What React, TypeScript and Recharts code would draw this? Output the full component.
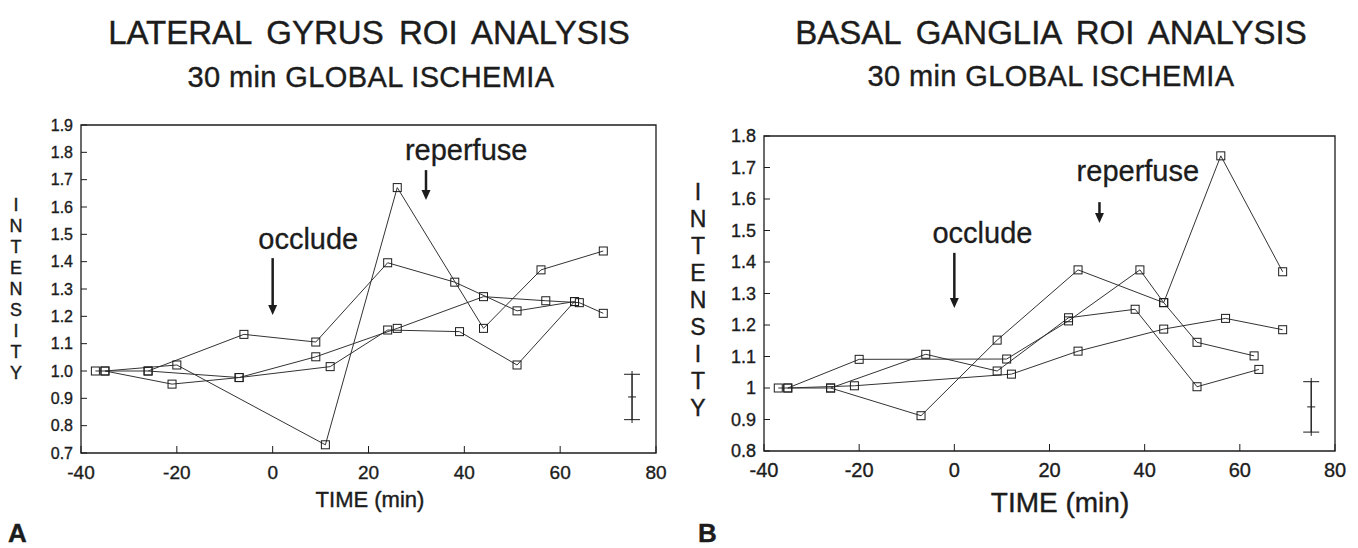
import React from "react";
import {
  ComposedChart,
  Line,
  Scatter,
  ErrorBar,
  XAxis,
  YAxis,
  ReferenceArea,
  ReferenceLine,
  ReferenceDot,
} from "recharts";

const FONT = "'Liberation Sans', Arial, Helvetica, sans-serif";
const INK = "#1c1c1c";

// time (min) tick labels shared by both panels
const timeTicks = [-40, -20, 0, 20, 40, 60, 80];

// panel A: lateral gyrus
const gyrusTicks = [0.7, 0.8, 0.9, 1.0, 1.1, 1.2, 1.3, 1.4, 1.5, 1.6, 1.7, 1.8, 1.9];
const gyrus1 = [
  { x: -37, y: 1.0 }, { x: -26, y: 1.0 }, { x: -6, y: 1.134 }, { x: 9, y: 1.106 },
  { x: 24, y: 1.396 }, { x: 38, y: 1.325 }, { x: 51, y: 1.22 }, { x: 63, y: 1.254 },
];
const gyrus2 = [
  { x: -35, y: 1.0 }, { x: -21, y: 0.952 }, { x: -7, y: 0.976 }, { x: 9, y: 1.052 },
  { x: 26, y: 1.156 }, { x: 44, y: 1.272 }, { x: 57, y: 1.257 }, { x: 64, y: 1.25 },
  { x: 69, y: 1.211 },
];
const gyrus3 = [
  { x: -35, y: 1.0 }, { x: -20, y: 1.022 }, { x: 11, y: 0.73 }, { x: 26, y: 1.671 },
  { x: 44, y: 1.156 }, { x: 56, y: 1.37 }, { x: 69, y: 1.439 },
];
const gyrus4 = [
  { x: -26, y: 1.0 }, { x: -7, y: 0.976 }, { x: 12, y: 1.016 }, { x: 24, y: 1.15 },
  { x: 39, y: 1.144 }, { x: 51, y: 1.022 }, { x: 63, y: 1.254 },
];
const gyrusError = [{ x: 75, y: 0.905, err: 0.083, stem: 0.095 }];

// panel B: basal ganglia
const gangliaTicks = [0.8, 0.9, 1, 1.1, 1.2, 1.3, 1.4, 1.5, 1.6, 1.7, 1.8];
const ganglia1 = [
  { x: -35, y: 1.0 }, { x: -20, y: 1.091 }, { x: 11, y: 1.092 }, { x: 24, y: 1.213 },
  { x: 39, y: 1.375 }, { x: 44, y: 1.271 }, { x: 51, y: 1.145 }, { x: 63, y: 1.102 },
];
const ganglia2 = [
  { x: -37, y: 1.0 }, { x: -26, y: 1.0 }, { x: -7, y: 0.912 }, { x: 9, y: 1.152 },
  { x: 26, y: 1.375 }, { x: 44, y: 1.271 }, { x: 56, y: 1.737 }, { x: 69, y: 1.369 },
];
const ganglia3 = [
  { x: -26, y: 1.0 }, { x: -6, y: 1.107 }, { x: 9, y: 1.054 }, { x: 24, y: 1.223 },
  { x: 38, y: 1.25 }, { x: 51, y: 1.004 }, { x: 64, y: 1.059 },
];
const ganglia4 = [
  { x: -35, y: 1.0 }, { x: -21, y: 1.007 }, { x: 12, y: 1.044 }, { x: 26, y: 1.117 },
  { x: 44, y: 1.187 }, { x: 57, y: 1.221 }, { x: 69, y: 1.185 },
];
const gangliaError = [{ x: 75, y: 0.94, err: 0.08, stem: 0.092 }];

const SquareDot = (props: any) => {
  const { cx, cy } = props;
  if (cx == null || cy == null) return null;
  return <rect x={cx - 4} y={cy - 4} width={8} height={8} fill="#fff" fillOpacity={0} stroke={INK} strokeWidth={1} />;
};

const MidTick = (props: any) => {
  const { cx, cy } = props;
  if (cx == null) return null;
  return <line x1={cx - 4} x2={cx + 4} y1={cy} y2={cy} stroke={INK} strokeWidth={1} />;
};

const Arrow = (props: any) => {
  const { x1, y1, x2, y2 } = props;
  const top = Math.min(y1, y2);
  const bot = Math.max(y1, y2);
  const x = x1 ?? x2;
  return (
    <g>
      <line x1={x} x2={x} y1={top} y2={bot - 8} stroke={INK} strokeWidth={2.5} />
      <polygon points={`${x - 4.5},${bot - 10} ${x + 4.5},${bot - 10} ${x},${bot}`} fill={INK} />
    </g>
  );
};

const note = (text: string, size: number) => (props: any) => (
  <text x={props.cx} y={props.cy} fontSize={size} fontFamily={FONT} fill={INK} stroke={INK} strokeWidth={0.3} textAnchor="start">
    {text}
  </text>
);

type PanelProps = {
  series: Array<Array<{ x: number; y: number }>>;
  errors: Array<{ x: number; y: number; err: number; stem: number }>;
  yTicks: number[];
  yFmt: (v: number) => string;
  width: number;
  margin: { top: number; right: number; bottom: number; left: number };
  yFont: number;
  xFont: number;
  xMargin: number;
  occlude: { tx: number; ty: number; y1: number; y2: number };
  reperfuse: { tx: number; ty: number; x: number; y1: number; y2: number };
  noteSize: number;
};

function Panel(p: PanelProps) {
  const yMin = p.yTicks[0];
  const yMax = p.yTicks[p.yTicks.length - 1];
  return (
    <ComposedChart width={p.width} height={548} margin={p.margin}>
      <XAxis
        type="number"
        dataKey="x"
        domain={[-40, 80]}
        ticks={timeTicks}
        interval={0}
        height={40}
        axisLine={false}
        tickSize={-7}
        tickMargin={p.xMargin}
        tickLine={{ stroke: INK }}
        tick={{ fontSize: p.xFont, fill: INK, stroke: INK, strokeWidth: 0.35, fontFamily: FONT }}
      />
      <YAxis
        type="number"
        dataKey="y"
        domain={[yMin, yMax]}
        ticks={p.yTicks}
        interval={0}
        width={50}
        axisLine={false}
        tickSize={-6}
        tickMargin={14}
        tickLine={{ stroke: INK }}
        tickFormatter={p.yFmt}
        tick={{ fontSize: p.yFont, fill: INK, stroke: INK, strokeWidth: 0.35, fontFamily: FONT }}
      />
      <ReferenceArea x1={-40} x2={80} y1={yMin} y2={yMax} fill="none" stroke={INK} strokeWidth={1.3} />
      {p.series.map((d, i) => (
        <Line
          key={i}
          data={d}
          dataKey="y"
          stroke="#333"
          strokeWidth={1}
          dot={<SquareDot />}
          activeDot={false}
          isAnimationActive={false}
        />
      ))}
      <Scatter data={p.errors} dataKey="y" shape={<MidTick />} isAnimationActive={false}>
        <ErrorBar dataKey="stem" direction="y" width={0} stroke={INK} strokeWidth={1} />
        <ErrorBar dataKey="err" direction="y" width={8} stroke={INK} strokeWidth={1} />
      </Scatter>
      <ReferenceLine segment={[{ x: 0, y: p.occlude.y1 }, { x: 0, y: p.occlude.y2 }]} shape={Arrow} />
      <ReferenceDot x={p.occlude.tx} y={p.occlude.ty} r={0} shape={note("occlude", p.noteSize)} />
      <ReferenceLine
        segment={[{ x: p.reperfuse.x, y: p.reperfuse.y1 }, { x: p.reperfuse.x, y: p.reperfuse.y2 }]}
        shape={Arrow}
      />
      <ReferenceDot x={p.reperfuse.tx} y={p.reperfuse.ty} r={0} shape={note("reperfuse", p.noteSize)} />
    </ComposedChart>
  );
}

const abs = (s: React.CSSProperties): React.CSSProperties => ({
  position: "absolute",
  fontFamily: FONT,
  color: INK,
  whiteSpace: "nowrap",
  WebkitTextStroke: "0.4px #1c1c1c",
  ...s,
});

// vertical axis title, one letter per row
function Stack({ text, left, top, size, pitch }: { text: string; left: number; top: number; size: number; pitch: number }) {
  return (
    <>
      {text.split("").map((c, i) => (
        <div
          key={i}
          style={abs({ left: left - 15, top: top + i * pitch, width: 30, height: pitch, textAlign: "center", fontSize: size, lineHeight: `${pitch}px` })}
        >
          {c}
        </div>
      ))}
    </>
  );
}

export default function App() {
  return (
    <div style={{ position: "absolute", left: 0, top: 0, width: 1358, height: 548, background: "#fff", overflow: "hidden" }}>
      <div style={abs({ left: 0, width: 738, top: 16, textAlign: "center", fontSize: 33, lineHeight: "33px", wordSpacing: 6 })}>
        LATERAL GYRUS ROI ANALYSIS
      </div>
      <div style={abs({ left: 0, width: 742, top: 63, textAlign: "center", fontSize: 29, lineHeight: "29px", letterSpacing: 0.4 })}>
        30 min GLOBAL ISCHEMIA
      </div>
      <div style={abs({ left: 720, width: 662, top: 16, textAlign: "center", fontSize: 33, lineHeight: "33px", wordSpacing: 6 })}>
        BASAL GANGLIA ROI ANALYSIS
      </div>
      <div style={abs({ left: 720, width: 662, top: 62, textAlign: "center", fontSize: 29, lineHeight: "29px", letterSpacing: 0.4 })}>
        30 min GLOBAL ISCHEMIA
      </div>

      <Stack text="INTENSITY" left={16} top={195} size={18} pitch={21} />
      <Stack text="INTENSITY" left={698} top={179} size={23} pitch={27} />

      <div style={{ position: "absolute", left: 0, top: 0 }}>
        <Panel
          series={[gyrus1, gyrus2, gyrus3, gyrus4]}
          errors={gyrusError}
          yTicks={gyrusTicks}
          yFmt={(v) => v.toFixed(1)}
          width={680}
          margin={{ top: 125, right: 24, bottom: 55, left: 31 }}
          yFont={16}
          xFont={19}
          xMargin={20}
          occlude={{ tx: -3, ty: 1.446, y1: 1.413, y2: 1.205 }}
          reperfuse={{ tx: 27.6, ty: 1.772, x: 32, y1: 1.735, y2: 1.626 }}
          noteSize={29}
        />
      </div>
      <div style={{ position: "absolute", left: 680, top: 0 }}>
        <Panel
          series={[ganglia1, ganglia2, ganglia3, ganglia4]}
          errors={gangliaError}
          yTicks={gangliaTicks}
          yFmt={(v) => String(Math.round(v * 10) / 10)}
          width={678}
          margin={{ top: 136, right: 23, bottom: 57, left: 34 }}
          yFont={18}
          xFont={20}
          xMargin={19}
          occlude={{ tx: -4.6, ty: 1.46, y1: 1.429, y2: 1.254 }}
          reperfuse={{ tx: 25.7, ty: 1.657, x: 30.5, y1: 1.59, y2: 1.524 }}
          noteSize={29}
        />
      </div>

      <div style={abs({ left: 260, width: 220, top: 489, textAlign: "center", fontSize: 22, lineHeight: "22px" })}>
        TIME (min)
      </div>
      <div style={abs({ left: 940, width: 240, top: 489, textAlign: "center", fontSize: 28, lineHeight: "28px" })}>
        TIME (min)
      </div>
      <div style={abs({ left: 8, top: 519, fontSize: 26, fontWeight: "bold", lineHeight: "28px" })}>A</div>
      <div style={abs({ left: 698, top: 519, fontSize: 26, fontWeight: "bold", lineHeight: "28px" })}>B</div>
    </div>
  );
}
